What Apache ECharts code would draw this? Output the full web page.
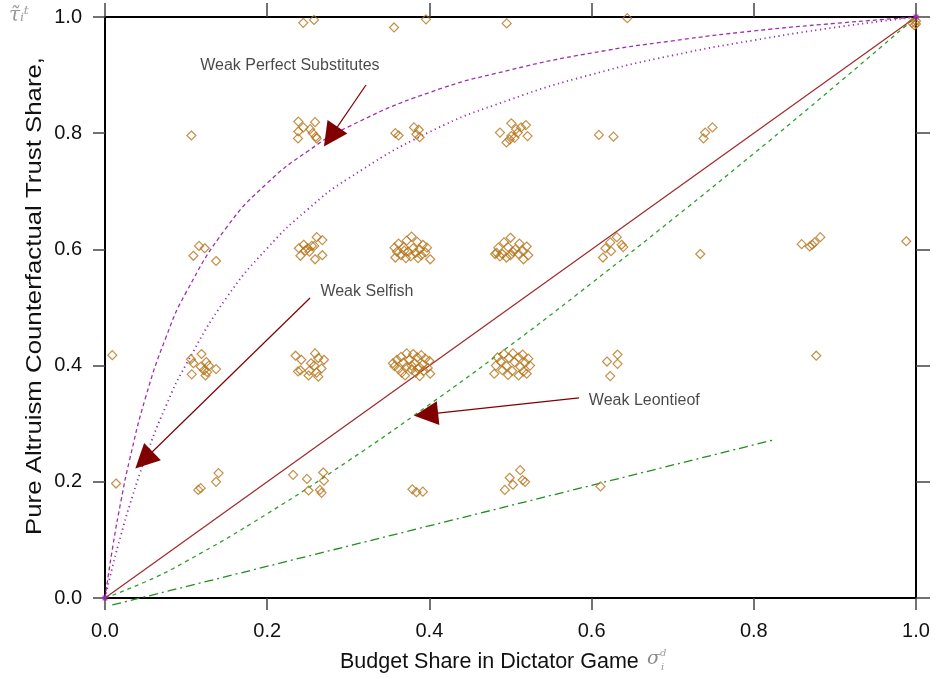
<!DOCTYPE html>
<html>
<head>
<meta charset="utf-8">
<script src="https://cdn.jsdelivr.net/npm/echarts@6/dist/echarts.min.js"></script>
<style>
html,body{margin:0;padding:0;background:#fff;}
#c{width:937px;height:679px;}
</style>
</head>
<body>
<div id="c"></div>
<script>
// ---- Data ----
var tickLabels = ['0.0','0.2','0.4','0.6','0.8','1.0'];

var observations = [
  // row ~1.0
  [0.2445,0.990],[0.2577,0.995],[0.3564,0.982],[0.3958,0.996],[0.4953,0.989],[0.644,0.998],
  [0.995,0.990],[1.0,0.993],[0.998,0.986],[1.0,0.988],
  // row ~0.8
  [0.1065,0.796],
  [0.2384,0.820],[0.259,0.819],[0.2446,0.810],[0.253,0.807],[0.2384,0.803],[0.256,0.800],[0.260,0.794],[0.238,0.791],[0.261,0.791],
  [0.358,0.800],[0.362,0.796],[0.381,0.810],[0.387,0.806],[0.384,0.798],[0.388,0.793],
  [0.501,0.817],[0.519,0.814],[0.487,0.801],[0.507,0.807],[0.509,0.801],[0.521,0.795],[0.501,0.795],[0.499,0.789],[0.495,0.784],[0.505,0.792],[0.513,0.810],
  [0.609,0.797],[0.627,0.794],
  [0.749,0.810],[0.740,0.801],[0.738,0.791],
  // row ~0.6
  [0.116,0.606],[0.123,0.602],[0.109,0.589],[0.137,0.580],
  [0.261,0.621],[0.268,0.616],[0.245,0.608],[0.250,0.602],[0.239,0.602],[0.255,0.606],[0.247,0.598],[0.241,0.589],[0.259,0.583],[0.268,0.590],[0.258,0.606],[0.252,0.596],
  [0.378,0.622],[0.372,0.615],[0.385,0.613],[0.362,0.610],[0.392,0.608],[0.357,0.603],[0.368,0.604],[0.380,0.602],[0.388,0.600],[0.397,0.603],[0.360,0.596],
  [0.374,0.596],[0.383,0.594],[0.365,0.590],[0.377,0.588],[0.390,0.590],[0.358,0.586],[0.371,0.585],[0.386,0.585],[0.401,0.583],[0.369,0.598],[0.395,0.595],
  [0.500,0.620],[0.492,0.612],[0.511,0.610],[0.520,0.605],[0.485,0.603],[0.497,0.604],[0.506,0.600],[0.515,0.598],[0.483,0.594],[0.490,0.592],[0.500,0.590],
  [0.510,0.592],[0.522,0.590],[0.487,0.588],[0.495,0.586],[0.516,0.583],[0.503,0.596],[0.481,0.592],
  [0.631,0.621],[0.623,0.612],[0.637,0.608],[0.639,0.604],[0.617,0.602],[0.624,0.597],[0.614,0.586],
  [0.734,0.592],
  [0.859,0.609],[0.869,0.605],[0.875,0.612],[0.882,0.621],[0.872,0.608],
  [0.988,0.614],
  // row ~0.4
  [0.009,0.418],
  [0.119,0.420],[0.106,0.411],[0.109,0.404],[0.125,0.406],[0.128,0.400],[0.118,0.398],[0.137,0.394],[0.122,0.392],[0.107,0.385],[0.124,0.383],[0.126,0.389],
  [0.235,0.417],[0.259,0.421],[0.242,0.410],[0.263,0.413],[0.270,0.410],[0.254,0.404],[0.267,0.395],[0.241,0.392],[0.252,0.391],[0.261,0.388],[0.251,0.383],[0.263,0.381],[0.238,0.390],[0.258,0.400],
  [0.372,0.421],[0.380,0.420],[0.390,0.418],[0.365,0.415],[0.385,0.414],[0.395,0.412],[0.360,0.410],[0.375,0.410],[0.400,0.408],[0.355,0.404],[0.368,0.405],[0.382,0.404],[0.392,0.402],
  [0.372,0.398],[0.388,0.397],[0.398,0.396],[0.362,0.394],[0.378,0.393],[0.393,0.391],[0.366,0.388],[0.383,0.388],[0.401,0.386],[0.370,0.383],[0.388,0.382],[0.357,0.399],[0.378,0.400],[0.386,0.395],
  [0.492,0.420],[0.503,0.421],[0.515,0.419],[0.484,0.414],[0.498,0.413],[0.510,0.414],[0.522,0.412],[0.488,0.407],[0.505,0.406],[0.518,0.405],[0.482,0.400],
  [0.495,0.399],[0.512,0.398],[0.524,0.400],[0.490,0.392],[0.502,0.391],[0.516,0.390],[0.480,0.386],[0.497,0.384],[0.510,0.383],[0.520,0.386],
  [0.632,0.419],[0.619,0.407],[0.632,0.403],[0.623,0.382],
  [0.877,0.417],
  // row ~0.2
  [0.0136,0.197],[0.115,0.186],[0.118,0.189],[0.137,0.200],[0.140,0.215],
  [0.232,0.212],[0.249,0.205],[0.251,0.185],[0.269,0.216],[0.270,0.202],[0.265,0.186],[0.267,0.181],
  [0.379,0.187],[0.384,0.182],[0.392,0.183],
  [0.493,0.186],[0.499,0.207],[0.512,0.220],[0.515,0.203],[0.518,0.200],[0.503,0.195],
  [0.611,0.192]
];

var diagonalLine = [[0,0],[1,1]];

var substitutesDashed = [[0,0],[0.01,0.092],[0.02,0.169],[0.03,0.236],[0.05,0.345],[0.075,0.448],[0.1,0.526],[0.15,0.638],[0.2,0.714],
  [0.25,0.769],[0.3,0.811],[0.4,0.870],[0.5,0.909],[0.6,0.938],[0.7,0.959],[0.8,0.976],[0.9,0.989],[1,1]];

var substitutesDotted = [[0,0],[0.01,0.058],[0.02,0.110],[0.03,0.158],[0.05,0.242],[0.075,0.330],[0.1,0.402],[0.15,0.517],[0.2,0.602],
  [0.25,0.669],[0.3,0.722],[0.4,0.802],[0.5,0.858],[0.6,0.901],[0.7,0.934],[0.8,0.960],[0.9,0.982],[1,1]];

var leontiefDashed = [[0,0],[0.05,0.028],[0.1,0.063],[0.2,0.145],[0.3,0.236],[0.4,0.333],[0.5,0.435],[0.6,0.542],[0.7,0.652],[0.8,0.765],[0.9,0.881],[1,1]];

var dashDotLine = [[0.009,-0.012],[0.824,0.272]];

var endpointMarks = [[0,0],[1,1]];

var arrows = [
  [[0.3218,0.883],[0.2783,0.794]],
  [[0.2528,0.5164],[0.0480,0.2375]],
  [[0.5845,0.3445],[0.3960,0.3160]]
];

var annotations = [
  {name:'Weak Perfect Substitutes', value:[0.228,0.917]},
  {name:'Weak Selfish', value:[0.323,0.527]},
  {name:'Weak Leontieof', value:[0.665,0.339]}
];

// ---- Chart ----
var chart = echarts.init(document.getElementById('c'), null, {renderer:'canvas'});
var FONT = '"Liberation Sans", Arial, sans-serif';
var lblFmt = function(v){ return tickLabels[Math.round(v*5)]; };

var option = {
  animation:false,
  backgroundColor:'#fff',
  grid:{left:105,right:21,top:17,bottom:81,show:true,borderColor:'#000',borderWidth:2,backgroundColor:'transparent'},
  xAxis:[{
    type:'value',min:0,max:1,interval:0.2,position:'bottom',
    axisLine:{show:true,onZero:false,lineStyle:{color:'#000',width:2}},
    axisTick:{show:true,inside:false,length:12,lineStyle:{color:'#444',width:1.5}},
    axisLabel:{show:true,formatter:lblFmt,fontSize:20,color:'#111',fontFamily:FONT,margin:23},
    splitLine:{show:false}
  },{
    type:'value',min:0,max:1,interval:0.2,position:'top',
    axisLine:{show:false,onZero:false},
    axisTick:{show:true,inside:false,length:14,lineStyle:{color:'#444',width:1.5}},
    axisLabel:{show:false},splitLine:{show:false}
  }],
  yAxis:[{
    type:'value',min:0,max:1,interval:0.2,position:'left',
    axisLine:{show:true,onZero:false,lineStyle:{color:'#000',width:2}},
    axisTick:{show:true,inside:false,length:12,lineStyle:{color:'#444',width:1.5}},
    axisLabel:{show:true,formatter:lblFmt,fontSize:20,color:'#111',fontFamily:FONT,margin:23},
    splitLine:{show:false}
  },{
    type:'value',min:0,max:1,interval:0.2,position:'right',
    axisLine:{show:false,onZero:false},
    axisTick:{show:true,inside:false,length:14,lineStyle:{color:'#444',width:1.5}},
    axisLabel:{show:false},splitLine:{show:false}
  }],
  graphic:[
    {type:'text',left:340,top:651,style:{text:'Budget Share in Dictator Game',font:'21.5px '+FONT,fill:'#111'}},
    {type:'text',left:647,top:650,style:{text:'σ',font:'italic 19px "DejaVu Serif", serif',fill:'#8a8a8a'}},
    {type:'text',left:660,top:648,style:{text:'d',font:'italic 10px "DejaVu Serif", serif',fill:'#9a9a9a'}},
    {type:'text',left:661,top:662,style:{text:'i',font:'italic 10px "DejaVu Serif", serif',fill:'#9a9a9a'}},
    {type:'text',x:35,y:296,rotation:Math.PI/2,scaleX:1.2,style:{text:'Pure Altruism Counterfactual Trust Share,',font:'21.5px '+FONT,fill:'#111',align:'center',verticalAlign:'middle'}},
    {type:'text',left:9,top:6,style:{text:'τ̃ᵢᵗ',font:'italic 20px "DejaVu Serif", serif',fill:'#9a9a9a'}}
  ],
  series:[
    {
      type:'line',data:dashDotLine,showSymbol:false,symbol:'none',clip:false,z:3,
      lineStyle:{color:'#1f8f1f',width:1.3,type:[9,4,2,4]}
    },
    {
      type:'line',data:leontiefDashed,showSymbol:false,symbol:'none',smooth:true,z:3,
      lineStyle:{color:'#2ba02b',width:1.3,type:[4,4]}
    },
    {
      type:'line',data:diagonalLine,showSymbol:false,symbol:'none',z:3,
      lineStyle:{color:'#a3282b',width:1.2}
    },
    {
      type:'line',data:substitutesDashed,showSymbol:false,symbol:'none',smooth:true,z:3,
      lineStyle:{color:'#a030b0',width:1.3,type:[4,3]}
    },
    {
      type:'line',data:substitutesDotted,showSymbol:false,symbol:'none',smooth:true,z:3,
      lineStyle:{color:'#9a2aa8',width:1.8,type:[1.2,3.5]}
    },
    {
      type:'scatter',data:observations,symbol:'diamond',symbolSize:9,z:4,
      itemStyle:{color:'rgba(255,255,255,0)',borderColor:'#b5741a',borderWidth:1.2}
    },
    {
      type:'scatter',data:endpointMarks,symbol:'rect',symbolSize:5,z:5,clip:false,
      itemStyle:{color:'#a020b0'}
    },
    {
      type:'lines',coordinateSystem:'cartesian2d',z:6,
      symbol:['none','triangle'],symbolSize:[13,24],
      lineStyle:{color:'#800000',width:1.2,opacity:1},
      data:arrows.map(function(a){return {coords:a};})
    },
    {
      type:'scatter',symbolSize:0,z:7,
      label:{show:true,position:'inside',formatter:function(p){return p.name;},fontSize:16,color:'#1a1a1a',fontFamily:FONT},
      data:annotations
    }
  ]
};
chart.setOption(option);
</script>
</body>
</html>
